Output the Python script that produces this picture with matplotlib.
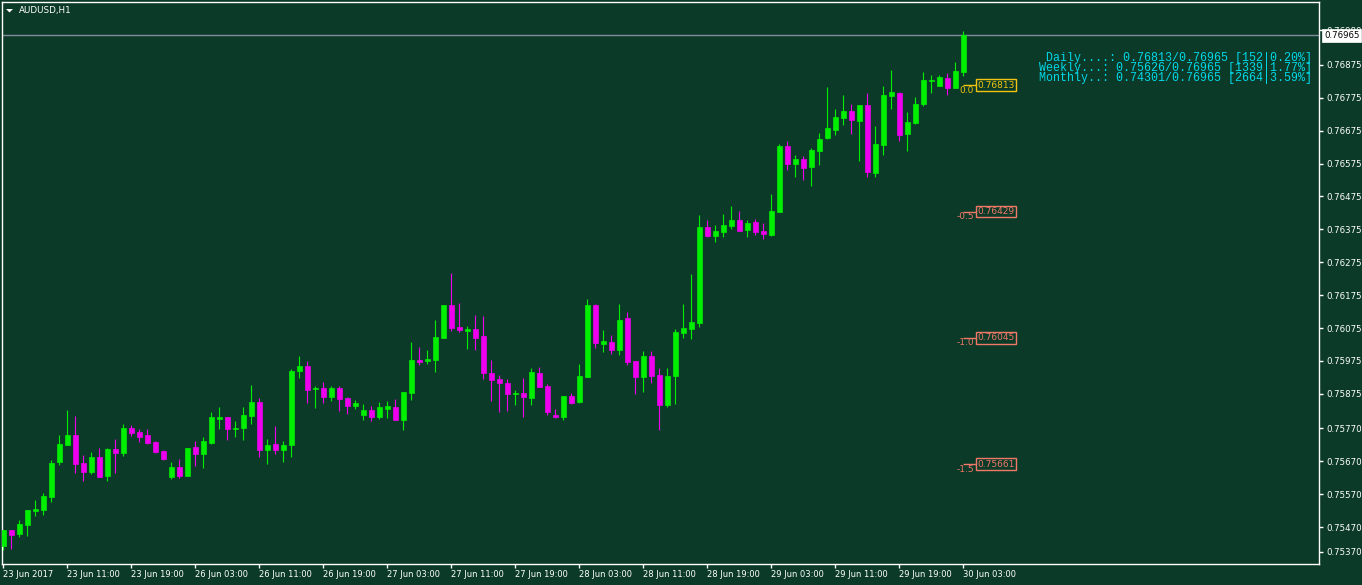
import numpy as np
import matplotlib
matplotlib.use('Agg')
import matplotlib.pyplot as plt
import matplotlib.transforms as mtransforms
from matplotlib.patches import Polygon

# AUDUSD H1, 23 Jun 2017 03:00 .. 30 Jun 03:00
opens = [0.75413, 0.75461, 0.75449, 0.75477, 0.75519, 0.75522, 0.75562, 0.75668, 0.75720, 0.75750,
         0.75665, 0.75638, 0.75683, 0.75625, 0.75707, 0.75695, 0.75771, 0.75759, 0.75750, 0.75729,
         0.75701, 0.75622, 0.75653, 0.75625, 0.75714, 0.75692, 0.75726, 0.75799, 0.75805, 0.75768,
         0.75771, 0.75808, 0.75850, 0.75704, 0.75723, 0.75704, 0.75720, 0.75945, 0.75960, 0.75890,
         0.75893, 0.75866, 0.75893, 0.75863, 0.75838, 0.75811, 0.75826, 0.75805, 0.75829, 0.75835,
         0.75796, 0.75878, 0.75978, 0.75975, 0.75978, 0.76045, 0.76145, 0.76078, 0.76066, 0.76072,
         0.76051, 0.75939, 0.75920, 0.75908, 0.75875, 0.75878, 0.75863, 0.75939, 0.75899, 0.75811,
         0.75805, 0.75869, 0.75850, 0.75926, 0.76145, 0.76027, 0.76033, 0.76008, 0.76106, 0.75975,
         0.75926, 0.75990, 0.75933, 0.75842, 0.75930, 0.76060, 0.76072, 0.76091, 0.76382, 0.76355,
         0.76367, 0.76386, 0.76404, 0.76373, 0.76398, 0.76370, 0.76358, 0.76428, 0.76629, 0.76574,
         0.76589, 0.76565, 0.76613, 0.76653, 0.76677, 0.76714, 0.76735, 0.76705, 0.76753, 0.76547,
         0.76632, 0.76781, 0.76790, 0.76665, 0.76699, 0.76756, 0.76826, 0.76811, 0.76835, 0.76805,
         0.76854]
highs = [0.75461, 0.75461, 0.75492, 0.75522, 0.75552, 0.75573, 0.75674, 0.75750, 0.75826, 0.75808,
         0.75689, 0.75698, 0.75711, 0.75711, 0.75738, 0.75783, 0.75780, 0.75768, 0.75768, 0.75732,
         0.75704, 0.75668, 0.75677, 0.75711, 0.75732, 0.75744, 0.75820, 0.75835, 0.75805, 0.75793,
         0.75835, 0.75902, 0.75862, 0.75738, 0.75777, 0.75732, 0.75950, 0.75990, 0.75975, 0.75899,
         0.75911, 0.75899, 0.75899, 0.75866, 0.75856, 0.75844, 0.75838, 0.75850, 0.75853, 0.75860,
         0.75881, 0.76033, 0.76018, 0.76008, 0.76100, 0.76145, 0.76242, 0.76151, 0.76081, 0.76115,
         0.76112, 0.75978, 0.75932, 0.75920, 0.75887, 0.75923, 0.75954, 0.75957, 0.75905, 0.75829,
         0.75869, 0.75878, 0.75966, 0.76163, 0.76148, 0.76069, 0.76054, 0.76148, 0.76124, 0.75975,
         0.76005, 0.76006, 0.75954, 0.75954, 0.76072, 0.76148, 0.76240, 0.76419, 0.76404, 0.76389,
         0.76422, 0.76446, 0.76431, 0.76404, 0.76407, 0.76395, 0.76483, 0.76635, 0.76644, 0.76601,
         0.76598, 0.76623, 0.76668, 0.76808, 0.76741, 0.76784, 0.76756, 0.76753, 0.76790, 0.76689,
         0.76811, 0.76860, 0.76793, 0.76732, 0.76778, 0.76854, 0.76844, 0.76844, 0.76850, 0.76884,
         0.76978]
lows = [0.75401, 0.75404, 0.75441, 0.75443, 0.75504, 0.75507, 0.75546, 0.75659, 0.75720, 0.75635,
        0.75610, 0.75631, 0.75622, 0.75610, 0.75635, 0.75686, 0.75747, 0.75729, 0.75723, 0.75695,
        0.75674, 0.75616, 0.75619, 0.75625, 0.75656, 0.75650, 0.75723, 0.75768, 0.75735, 0.75744,
        0.75735, 0.75783, 0.75683, 0.75662, 0.75692, 0.75668, 0.75683, 0.75924, 0.75847, 0.75832,
        0.75847, 0.75853, 0.75823, 0.75814, 0.75829, 0.75796, 0.75793, 0.75799, 0.75802, 0.75796,
        0.75765, 0.75856, 0.75963, 0.75966, 0.75942, 0.76045, 0.76066, 0.76063, 0.76011, 0.76008,
        0.75920, 0.75853, 0.75820, 0.75823, 0.75841, 0.75805, 0.75841, 0.75896, 0.75811, 0.75802,
        0.75796, 0.75844, 0.75847, 0.75926, 0.76015, 0.76002, 0.75996, 0.75993, 0.75963, 0.75875,
        0.75881, 0.75908, 0.75766, 0.75835, 0.75845, 0.76045, 0.76042, 0.76079, 0.76352, 0.76337,
        0.76352, 0.76376, 0.76370, 0.76352, 0.76358, 0.76346, 0.76355, 0.76428, 0.76556, 0.76534,
        0.76525, 0.76507, 0.76571, 0.76650, 0.76662, 0.76692, 0.76665, 0.76583, 0.76534, 0.76534,
        0.76601, 0.76741, 0.76644, 0.76613, 0.76695, 0.76750, 0.76790, 0.76811, 0.76784, 0.76805,
        0.76841]
closes = [0.75461, 0.75446, 0.75480, 0.75522, 0.75525, 0.75565, 0.75665, 0.75723, 0.75750, 0.75662,
          0.75638, 0.75683, 0.75622, 0.75707, 0.75695, 0.75771, 0.75756, 0.75744, 0.75726, 0.75698,
          0.75677, 0.75653, 0.75625, 0.75711, 0.75692, 0.75732, 0.75805, 0.75805, 0.75768, 0.75771,
          0.75811, 0.75850, 0.75704, 0.75720, 0.75704, 0.75720, 0.75945, 0.75960, 0.75887, 0.75893,
          0.75866, 0.75893, 0.75860, 0.75838, 0.75847, 0.75826, 0.75805, 0.75835, 0.75838, 0.75796,
          0.75881, 0.75978, 0.75972, 0.75981, 0.76048, 0.76145, 0.76075, 0.76069, 0.76072, 0.76045,
          0.75939, 0.75917, 0.75908, 0.75875, 0.75878, 0.75866, 0.75942, 0.75896, 0.75820, 0.75805,
          0.75869, 0.75847, 0.75929, 0.76145, 0.76030, 0.76036, 0.76008, 0.76100, 0.75972, 0.75926,
          0.75990, 0.75930, 0.75842, 0.75930, 0.76063, 0.76076, 0.76094, 0.76382, 0.76355, 0.76370,
          0.76389, 0.76404, 0.76370, 0.76395, 0.76367, 0.76361, 0.76431, 0.76629, 0.76574, 0.76589,
          0.76562, 0.76616, 0.76650, 0.76683, 0.76717, 0.76735, 0.76708, 0.76753, 0.76550, 0.76635,
          0.76784, 0.76793, 0.76662, 0.76702, 0.76756, 0.76829, 0.76829, 0.76838, 0.76805, 0.76857,
          0.76965]

time_labels = ['23 Jun 2017', '23 Jun 11:00', '23 Jun 19:00', '26 Jun 03:00', '26 Jun 11:00',
               '26 Jun 19:00', '27 Jun 03:00', '27 Jun 11:00', '27 Jun 19:00', '28 Jun 03:00',
               '28 Jun 11:00', '28 Jun 19:00', '29 Jun 03:00', '29 Jun 11:00', '29 Jun 19:00',
               '30 Jun 03:00']

price_ticks = [0.76980, 0.76875, 0.76775, 0.76675, 0.76575, 0.76475, 0.76375, 0.76275, 0.76175,
               0.76075, 0.75975, 0.75875, 0.75770, 0.75670, 0.75570, 0.75470, 0.75395]
price_tick_labels = ['0.76980', '0.76875', '0.76775', '0.76675', '0.76575', '0.76475', '0.76375',
                     '0.76275', '0.76175', '0.76075', '0.75975', '0.75875', '0.75770', '0.75670',
                     '0.75570', '0.75470', '0.75370']

fib_levels = ['0.0', '-0.5', '-1.0', '-1.5']
fib_prices = [0.76813, 0.76429, 0.76045, 0.75661]

last_price = 0.76965

info_lines = ['Daily....: 0.76813/0.76965 [152|0.20%]',
              'Weekly...: 0.75626/0.76965 [1339|1.77%]',
              'Monthly..: 0.74301/0.76965 [2664|3.59%]']

# colours
bg = '#0c3a28'
bull = '#00ee00'
bear = '#ee00ee'

W, H = 1362, 585
fig = plt.figure(figsize=(W / 100, H / 100), dpi=100, facecolor=bg)
ax = fig.add_axes([2 / W, 21 / H, 1317 / W, 562 / H])
ax.set_facecolor(bg)

o = np.array(opens)
c = np.array(closes)
x = np.arange(len(o))
cols = [bull if cc >= oo else bear for oo, cc in zip(o, c)]

# wicks then bodies
ax.vlines(x, lows, highs, colors=cols, linewidth=0.8, zorder=2)
ax.bar(x, np.abs(c - o), bottom=np.minimum(o, c), width=0.58,
       color=cols, edgecolor=cols, linewidth=0.5, zorder=3)

ax.set_xlim(-0.1625, -0.1625 + 1317 / 8)
ax.set_ylim(0.753578, 0.770662)

# current price line
ax.axhline(last_price, color='#7f8c99', linewidth=1, zorder=1)

# fibo levels from daily open
for lvl, price in zip(fib_levels, fib_prices):
    col = '#f2c40f' if lvl == '0.0' else '#f07868'
    ax.hlines(price, 120, 121.55, colors=col, linewidth=1, zorder=4)
    ax.text(121.3, price - 0.00001, lvl, color=col, fontsize=6.5, ha='right', va='top', zorder=4)
    ax.text(121.75, price, f'{price:.5f}', color=col, fontsize=6.5, ha='left', va='center', zorder=5,
            bbox=dict(boxstyle='square,pad=0.15', fc=bg, ec=col, lw=1))

# axes look
for sp in ax.spines.values():
    sp.set_color('white')
    sp.set_linewidth(1)

ax.yaxis.tick_right()
ax.set_yticks(price_ticks)
ax.set_yticklabels(price_tick_labels)
ax.set_xticks(np.arange(0, len(o), 8))
ax.set_xticklabels(time_labels)
for lbl in ax.get_xticklabels():
    lbl.set_ha('left')
ax.tick_params(axis='y', colors='white', length=3, width=1, labelsize=6.2, pad=2)
ax.tick_params(axis='x', colors='white', length=3, width=1, labelsize=6.0, pad=1.5)

# last price box on the scale
trans = mtransforms.blended_transform_factory(ax.transAxes, ax.transData)
ax.text(1 + 5 / 1317, last_price, '0.76965', transform=trans, ha='left', va='center',
        fontsize=6.2, color='black', zorder=10, clip_on=False,
        bbox=dict(boxstyle='square,pad=0.2', fc='white', ec='white', lw=0.5))

# info text (top right)
for k, line in enumerate(info_lines):
    fig.text(1312 / W, 1 - (58.3 + 10 * k) / H, line, ha='right', va='center',
             fontsize=8.4, family='Liberation Mono', color='#00d8e8')

# title + small triangle
fig.text(19 / W, 1 - 10.5 / H, 'AUDUSD,H1', ha='left', va='center', fontsize=6.3, color='white')
tri = Polygon([[6 / W, 1 - 9 / H], [13 / W, 1 - 9 / H], [9.5 / W, 1 - 12.5 / H]],
              closed=True, transform=fig.transFigure, fc='white', ec='none')
fig.add_artist(tri)

plt.savefig('out.png', dpi=100, facecolor=bg)
